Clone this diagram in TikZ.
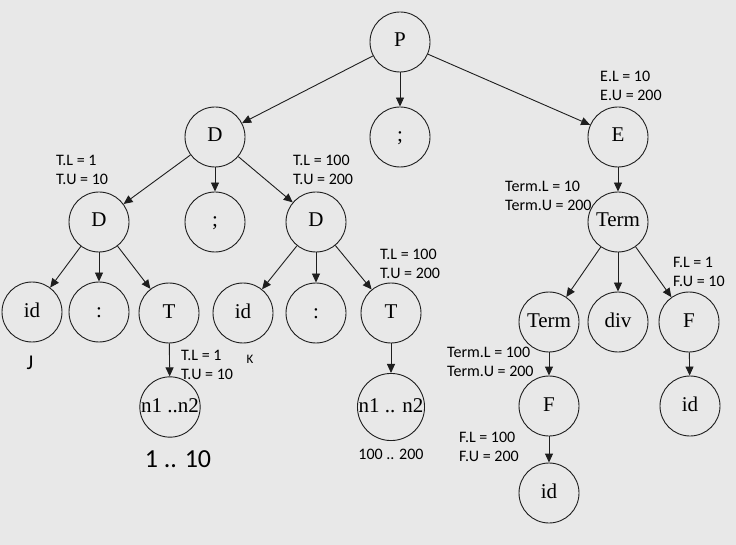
\documentclass[tikz,border=0pt]{standalone}
\usepackage{fontspec}
\setmainfont{Liberation Serif}
\newfontfamily\labfont{Carlito}
\usetikzlibrary{arrows.meta}
\definecolor{bg}{RGB}{232,232,232}
\definecolor{ln}{RGB}{30,30,30}
\begin{document}
\begin{tikzpicture}[x=1pt,y=-1pt,
  tn/.style={circle,draw=ln,line width=0.9pt,minimum size=60pt,inner sep=0pt,text height=14pt,text depth=4pt,font=\fontsize{21}{24}\selectfont},
  ar/.style={draw=ln,line width=0.9pt,-{Triangle[length=9pt,width=8pt]}},
  lab/.style={anchor=west,inner sep=0pt,align=left,font=\labfont\fontsize{16}{19}\selectfont},
  big/.style={inner sep=0pt,font=\labfont\fontsize{26}{30}\selectfont}]
\fill[bg] (0,0) rectangle (736,545);
\useasboundingbox (0,0) rectangle (736,545);
% nodes
\node[tn] (P) at (400,42) {P};
\node[tn] (D1) at (215,137) {D};
\node[tn] (S1) at (400,137) {;};
\node[tn] (E) at (618,137) {E};
\node[tn] (D2) at (99,222) {D};
\node[tn] (S2) at (215,222) {;};
\node[tn] (D3) at (316,222) {D};
\node[tn] (Tm1) at (618,222) {Term};
\node[tn] (id1) at (32,312) {id};
\node[tn] (c1) at (99,312) {:};
\node[tn] (T1) at (169,313) {T};
\node[tn] (id2) at (243,313) {id};
\node[tn] (c2) at (316,313) {:};
\node[tn] (T2) at (391,313) {T};
\node[tn] (Tm2) at (549,322) {Term};
\node[tn] (dv) at (618,322) {div};
\node[tn] (F1) at (689,322) {F};
\node[tn] (n1) at (170,407) {n1 ..n2};
\node[tn] (n2) at (391,407) {n1 .. n2};
\node[tn] (F2) at (549,406) {F};
\node[tn] (id3) at (690,406) {id};
\node[tn] (id4) at (549,493) {id};
% edges
\draw[ar] (P) -- (D1);
\draw[ar] (P) -- (S1);
\draw[ar] (P) -- (E);
\draw[ar] (D1) -- (D2);
\draw[ar] (D1) -- (S2);
\draw[ar] (D1) -- (D3);
\draw[ar] (E) -- (Tm1);
\draw[ar] (D2) -- (id1);
\draw[ar] (D2) -- (c1);
\draw[ar] (D2) -- (T1);
\draw[ar] (D3) -- (id2);
\draw[ar] (D3) -- (c2);
\draw[ar] (D3) -- (T2);
\draw[ar] (Tm1) -- (Tm2);
\draw[ar] (Tm1) -- (dv);
\draw[ar] (Tm1) -- (F1);
\draw[ar] (T1) -- (n1);
\draw[ar] (T2) -- (n2);
\draw[ar] (Tm2) -- (F2);
\draw[ar] (F1) -- (id3);
\draw[ar] (F2) -- (id4);
% labels
\node[lab] (l1) at (56,170) {T.L = 1\\T.U = 10};
\node[lab] (l2) at (293,170) {T.L = 100\\T.U = 200};
\node[lab] (l3) at (600,86) {E.L = 10\\E.U = 200};
\node[lab] (l4) at (505,196) {Term.L = 10\\Term.U = 200};
\node[lab] (l5) at (673,272) {F.L = 1\\F.U = 10};
\node[lab] (l6) at (380,264) {T.L = 100\\T.U = 200};
\node[lab] (l7) at (181,365) {T.L = 1\\T.U = 10};
\node[lab] (l8) at (447,362) {Term.L = 100\\Term.U = 200};
\node[lab] (l9) at (459,447) {F.L = 100\\F.U = 200};
\node[inner sep=0pt,font=\labfont\fontsize{13}{15}\selectfont] (k) at (250,359) {K};
\node[inner sep=0pt,font=\labfont\fontsize{21}{24}\selectfont] (j) at (30,363) {J};
\node[big] (r1) at (178,459) {1 .. 10};
\node[inner sep=0pt,font=\labfont\fontsize{16}{18}\selectfont] (r2) at (391,454) {100 .. 200};
\end{tikzpicture}
\end{document}
